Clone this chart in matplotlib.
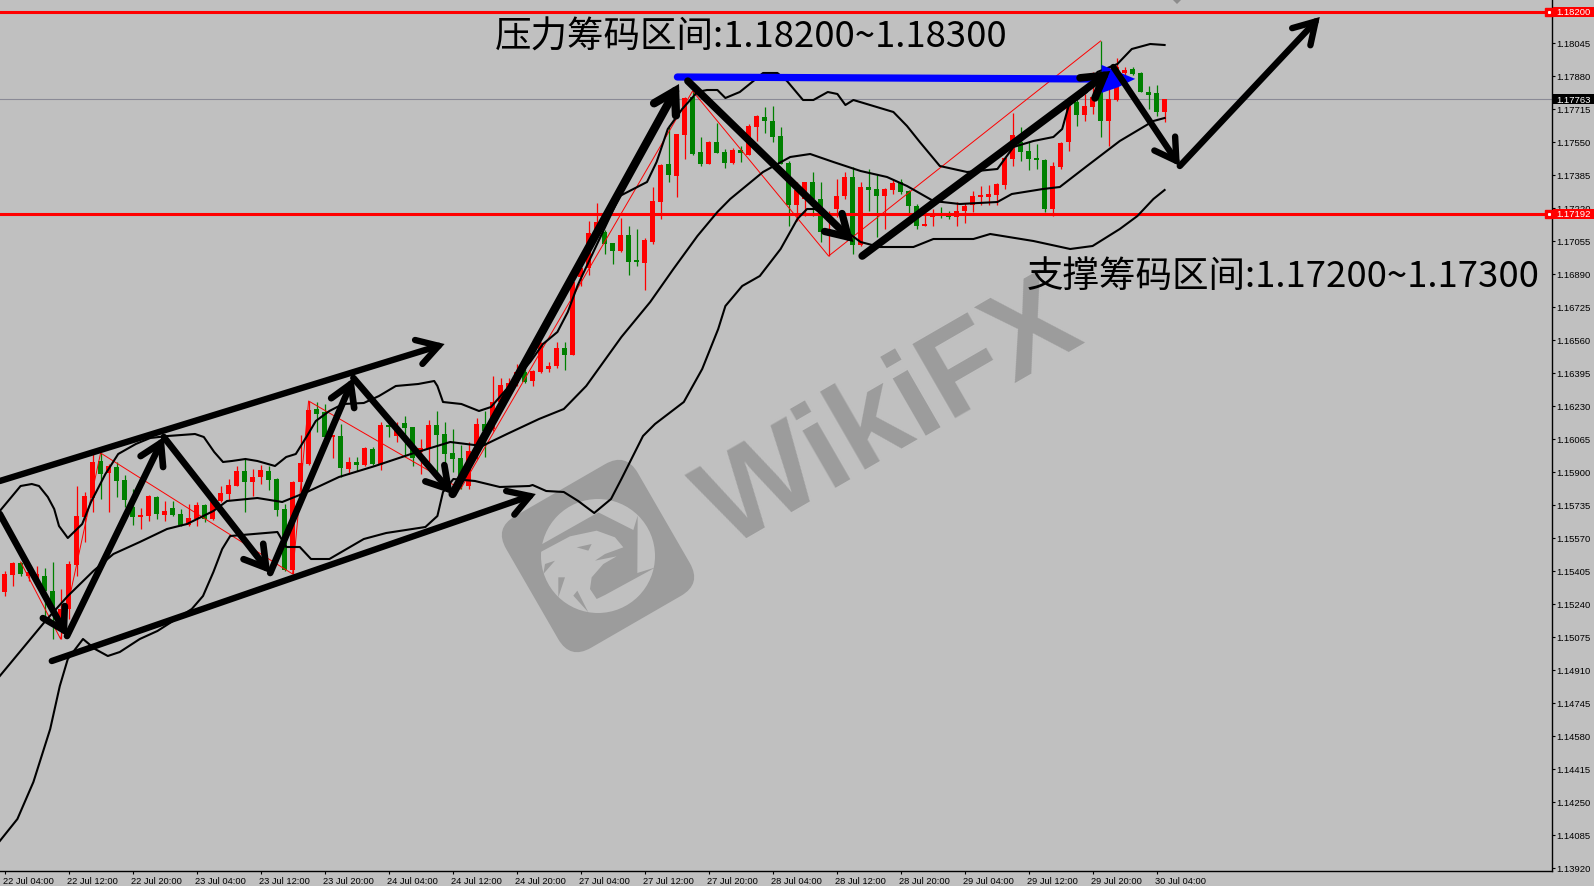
import matplotlib
matplotlib.use("Agg")
import matplotlib.pyplot as plt
import numpy as np
from matplotlib.patches import FancyBboxPatch, Circle, Polygon, Rectangle
from matplotlib.transforms import Affine2D, blended_transform_factory

plt.rcParams['font.family'] = ['Liberation Sans', 'DejaVu Sans']

opens = [1.15300,1.15385,1.15445,1.15380,1.15365,1.15380,1.15305,1.15165,1.15215,1.15435,
 1.15675,1.15770,1.15955,1.15895,1.15925,1.15860,1.15725,1.15675,1.15680,1.15775,
 1.15685,1.15720,1.15690,1.15635,1.15665,1.15735,1.15665,1.15755,1.15790,1.15830,
 1.15905,1.15850,1.15875,1.15905,1.15865,1.15715,1.15410,1.15850,1.15940,1.16215,
 1.16200,1.16075,1.16080,1.15915,1.15950,1.15935,1.16015,1.15935,1.16130,1.16080,
 1.16145,1.16125,1.16000,1.16015,1.16135,1.16090,1.15995,1.15970,1.15830,1.16030,
 1.16140,1.16115,1.16250,1.16300,1.16345,1.16400,1.16355,1.16400,1.16415,1.16430,
 1.16520,1.16485,1.16875,1.16920,1.17100,1.17100,1.17045,1.17005,1.17085,1.16955,
 1.16945,1.17050,1.17250,1.17440,1.17380,1.17585,1.17775,1.17500,1.17440,1.17550,
 1.17500,1.17445,1.17510,1.17485,1.17625,1.17675,1.17655,1.17580,1.17445,1.17235,
 1.17265,1.17350,1.17265,1.17100,1.17215,1.17280,1.17375,1.17035,1.17325,1.17315,
 1.17280,1.17310,1.17350,1.17305,1.17230,1.17130,1.17175,1.17195,1.17195,1.17175,
 1.17205,1.17235,1.17275,1.17275,1.17285,1.17335,1.17465,1.17550,1.17505,1.17470,
 1.17460,1.17215,1.17425,1.17550,1.17750,1.17685,1.17725,1.17805,1.17655,1.17760,
 1.17895,1.17915,1.17895,1.17800,1.17795,1.17700]
closes = [1.15390,1.15445,1.15390,1.15400,1.15390,1.15305,1.15205,1.15215,1.15440,1.15680,
 1.15780,1.15950,1.15890,1.15930,1.15855,1.15760,1.15675,1.15685,1.15780,1.15690,
 1.15705,1.15685,1.15635,1.15670,1.15735,1.15665,1.15750,1.15795,1.15835,1.15905,
 1.15850,1.15875,1.15910,1.15860,1.15710,1.15410,1.15850,1.15945,1.16210,1.16190,
 1.16075,1.16080,1.15920,1.15950,1.15935,1.16020,1.15940,1.16135,1.16125,1.16115,
 1.16120,1.15970,1.16020,1.16135,1.16085,1.15990,1.15965,1.15865,1.16005,1.16140,
 1.16105,1.16250,1.16335,1.16345,1.16400,1.16350,1.16405,1.16545,1.16430,1.16520,
 1.16485,1.16850,1.16920,1.17095,1.17150,1.17040,1.17005,1.17085,1.16950,1.16950,
 1.17060,1.17255,1.17435,1.17385,1.17590,1.17770,1.17490,1.17440,1.17550,1.17495,
 1.17445,1.17510,1.17495,1.17630,1.17680,1.17655,1.17575,1.17440,1.17235,1.17310,
 1.17350,1.17265,1.17100,1.17115,1.17280,1.17375,1.17035,1.17325,1.17310,1.17280,
 1.17315,1.17345,1.17300,1.17230,1.17130,1.17140,1.17190,1.17180,1.17175,1.17205,
 1.17230,1.17280,1.17285,1.17290,1.17340,1.17470,1.17585,1.17500,1.17465,1.17460,
 1.17215,1.17430,1.17545,1.17730,1.17685,1.17730,1.17775,1.17655,1.17765,1.17925,
 1.17910,1.17890,1.17800,1.17785,1.17700,1.17763]
highs = [1.15405,1.15450,1.15450,1.15430,1.15430,1.15420,1.15450,1.15315,1.15455,1.15830,
 1.15800,1.15990,1.15995,1.15940,1.15950,1.15885,1.15815,1.15720,1.15785,1.15780,
 1.15755,1.15755,1.15715,1.15740,1.15750,1.15740,1.15755,1.15830,1.15865,1.15930,
 1.15970,1.15915,1.15935,1.15930,1.15870,1.15740,1.15855,1.16085,1.16255,1.16250,
 1.16240,1.16080,1.16140,1.15975,1.15975,1.16025,1.16025,1.16150,1.16180,1.16150,
 1.16180,1.16125,1.16065,1.16160,1.16205,1.16150,1.16115,1.16035,1.16050,1.16170,
 1.16205,1.16380,1.16370,1.16370,1.16440,1.16415,1.16410,1.16550,1.16450,1.16550,
 1.16550,1.16855,1.16980,1.17155,1.17245,1.17110,1.17045,1.17170,1.17130,1.17115,
 1.17070,1.17325,1.17440,1.17635,1.17590,1.17775,1.17805,1.17575,1.17555,1.17645,
 1.17515,1.17520,1.17530,1.17640,1.17685,1.17725,1.17730,1.17625,1.17455,1.17350,
 1.17350,1.17400,1.17350,1.17205,1.17365,1.17400,1.17425,1.17350,1.17415,1.17385,
 1.17320,1.17365,1.17365,1.17310,1.17240,1.17190,1.17215,1.17225,1.17205,1.17250,
 1.17245,1.17305,1.17330,1.17335,1.17345,1.17475,1.17695,1.17625,1.17550,1.17540,
 1.17465,1.17450,1.17550,1.17775,1.17780,1.17790,1.17900,1.18055,1.17925,1.17970,
 1.17925,1.17925,1.17900,1.17830,1.17835,1.17765]
lows = [1.15280,1.15330,1.15380,1.15355,1.15350,1.15180,1.15065,1.15065,1.15165,1.15380,
 1.15550,1.15700,1.15765,1.15700,1.15775,1.15725,1.15635,1.15615,1.15655,1.15665,
 1.15655,1.15680,1.15630,1.15630,1.15630,1.15650,1.15660,1.15750,1.15760,1.15830,
 1.15700,1.15780,1.15840,1.15810,1.15680,1.15405,1.15390,1.15800,1.15935,1.16100,
 1.16065,1.15970,1.15875,1.15890,1.15905,1.15930,1.15935,1.15910,1.16075,1.16050,
 1.15975,1.15930,1.15890,1.15950,1.15880,1.15930,1.15900,1.15815,1.15815,1.15965,
 1.15975,1.16105,1.16230,1.16280,1.16330,1.16345,1.16330,1.16395,1.16400,1.16420,
 1.16410,1.16485,1.16830,1.16885,1.17090,1.16990,1.16940,1.17000,1.16885,1.16930,
 1.16810,1.17040,1.17165,1.17350,1.17275,1.17465,1.17485,1.17430,1.17440,1.17495,
 1.17420,1.17440,1.17450,1.17485,1.17555,1.17595,1.17550,1.17440,1.17130,1.17155,
 1.17180,1.17180,1.17050,1.16980,1.17175,1.17265,1.16990,1.17030,1.17205,1.17075,
 1.17115,1.17290,1.17290,1.17190,1.17115,1.17130,1.17130,1.17170,1.17165,1.17130,
 1.17145,1.17200,1.17235,1.17235,1.17235,1.17315,1.17430,1.17455,1.17410,1.17415,
 1.17200,1.17180,1.17415,1.17505,1.17630,1.17655,1.17690,1.17575,1.17530,1.17755,
 1.17885,1.17885,1.17800,1.17715,1.17680,1.17650]

upper_bars = [-0.6,2.0,3.4,4.3,5.4,6.2,6.8,7.9,9.7,10.8,12.6,14.2,16.4,18.2,20.4,23.8,24.9,26.2,27.3,28.4,
 30.1,31.6,33.8,35.2,36.4,37.8,38.9,40.6,42.3,44.9,46.8,48.9,51.7,53.7,54.1,54.8,57.1,59.3,60.8,65.7,
 67.3,69.1,70.4,71.6,72.0,76.9,80.3,81.5,82.9,84.7,86.6,87.8,89.1,90.1,91.9,93.6,94.8,96.6,97.8,99.8,
 101.1,102.9,104.1,105.1,106.1,108.6,111.1,112.8,114.4,116.9,120.3,124.1,126.1,128.6,131.1,132.2,133.0,
 135.3,136.6,139.1,140.9,143.2,145.0]
upper = [1.15705,1.15830,1.15840,1.15830,1.15775,1.15715,1.15630,1.15570,1.15640,1.15750,1.15890,1.15990,1.16040,1.16070,1.16080,1.16090,1.16075,1.16000,1.15950,1.15955,
 1.15965,1.15955,1.15930,1.15975,1.15990,1.16080,1.16155,1.16205,1.16240,1.16245,1.16280,1.16330,1.16340,1.16355,1.16330,1.16250,1.16240,1.16205,1.16225,1.16450,
 1.16540,1.16600,1.16700,1.16830,1.16865,1.17280,1.17350,1.17450,1.17615,1.17715,1.17800,1.17810,1.17810,1.17770,1.17800,1.17855,1.17895,1.17895,1.17855,1.17760,
 1.17760,1.17800,1.17790,1.17735,1.17760,1.17730,1.17700,1.17630,1.17550,1.17430,1.17400,1.17415,1.17525,1.17555,1.17575,1.17615,1.17730,
 1.17800,1.17900,1.17940,1.18015,1.18040,1.18035]

middle_bars = [-0.6,5.1,7.9,11.1,13.6,16.9,20.3,22.8,26.1,27.8,31.6,34.7,37.8,41.8,46.3,50.8,55.7,59.7,62.8,66.8,
 69.9,72.7,77.1,80.7,83.6,86.6,89.1,90.7,94.8,98.2,100.7,103.6,107.0,110.3,112.8,116.1,119.4,124.1,125.9,129.8,
 131.9,135.3,139.4,143.6,145.0]
middle = [1.14880,1.15155,1.15280,1.15405,1.15490,1.15550,1.15615,1.15640,1.15705,1.15755,1.15770,1.15750,1.15800,1.15875,1.15930,1.15990,1.16050,1.16030,1.16090,1.16165,
 1.16215,1.16330,1.16575,1.16750,1.16915,1.17080,1.17200,1.17265,1.17400,1.17475,1.17490,1.17450,1.17405,1.17375,1.17330,1.17255,1.17240,1.17250,1.17290,1.17315,
 1.17325,1.17430,1.17555,1.17655,1.17670]

lower_bars = [-0.6,1.6,3.6,5.7,6.9,7.9,9.8,11.3,12.9,14.4,16.9,19.1,23.4,24.8,26.1,27.2,28.2,34.1,35.2,36.9,
 38.3,40.6,44.9,47.7,52.6,54.1,54.8,56.1,58.8,61.9,65.6,66.0,67.7,69.9,71.7,73.7,75.8,77.1,79.8,81.3,
 84.9,87.2,89.2,90.1,92.2,94.4,97.0,99.1,100.3,101.3,103.6,107.0,109.4,113.6,116.1,121.1,123.2,128.6,133.2,136.0,
 139.4,141.6,143.6,145.0]
lower = [1.14055,1.14165,1.14350,1.14615,1.14830,1.14965,1.15065,1.15015,1.14980,1.15000,1.15065,1.15105,1.15215,1.15280,1.15400,1.15515,1.15580,1.15600,1.15525,1.15525,
 1.15465,1.15465,1.15565,1.15595,1.15625,1.15680,1.15800,1.15865,1.15855,1.15825,1.15830,1.15835,1.15805,1.15800,1.15755,1.15695,1.15765,1.15865,1.16080,1.16140,
 1.16250,1.16415,1.16615,1.16730,1.16830,1.16880,1.17015,1.17165,1.17215,1.17215,1.17150,1.17050,1.17025,1.17025,1.17065,1.17065,1.17090,1.17055,1.17015,1.17030,
 1.17115,1.17180,1.17265,1.17310]

zig_bars = [2,7,12,36,38,57,86,103,137]
zig_prices = [1.15450,1.15065,1.15995,1.15390,1.16255,1.15815,1.17805,1.16980,1.18055]

# arrows: start bar, start price, tip bar, tip price, line width in points
arrow_x0 = [-0.6,7.8,19.9,33.2,43.6,56.0,85.4,107.2,138.6,146.9,-0.6,5.9]
arrow_y0 = [1.15690,1.15080,1.16075,1.15395,1.16370,1.15790,1.17855,1.16980,1.17925,1.17430,1.15855,1.14955]
arrow_x1 = [7.8,19.9,33.2,43.6,56.0,84.3,106.1,138.2,146.9,164.4,55.0,66.4]
arrow_y1 = [1.15080,1.16075,1.15395,1.16370,1.15790,1.17840,1.17050,1.17905,1.17430,1.18175,1.16540,1.15790]
arrow_lw = [4.8,4.8,4.8,4.8,4.8,6.0,5.3,5.5,4.6,4.6,4.6,4.6]

blue_bars = [84.1,136.6]
blue_prices = [1.17875,1.17865]
blob_bars = [137.3,140.9,139.1,137.3]
blob_prices = [1.17925,1.17865,1.17830,1.17805]

level_high = 1.18200
level_low = 1.17192
last_price = 1.17763

ytick_values = [1.18045,1.17880,1.17715,1.17550,1.17385,1.17220,1.17055,1.16890,1.16725,1.16560,1.16395,
 1.16230,1.16065,1.15900,1.15735,1.15570,1.15405,1.15240,1.15075,1.14910,1.14745,1.14580,1.14415,1.14250,
 1.14085,1.13920]
xtick_labels = ['22 Jul 04:00','22 Jul 12:00','22 Jul 20:00','23 Jul 04:00','23 Jul 12:00','23 Jul 20:00',
 '24 Jul 04:00','24 Jul 12:00','24 Jul 20:00','27 Jul 04:00','27 Jul 12:00','27 Jul 20:00','28 Jul 04:00',
 '28 Jul 12:00','28 Jul 20:00','29 Jul 04:00','29 Jul 12:00','29 Jul 20:00','30 Jul 04:00']

BG = '#c0c0c0'
W, H = 1594, 887
fig = plt.figure(figsize=(W/100, H/100), dpi=100, facecolor=BG)
ax = fig.add_axes([0, 1-872/H, 1552/W, 872/H], facecolor=BG)
ax.set_xlim(-0.575, 193.425)
ax.set_ylim(1.13905, 1.18265)
ax.set_autoscale_on(False)

px = Affine2D().scale(1/W, -1/H).translate(0, 1) + fig.transFigure

# watermark
WM = '#9c9c9c'
sq = FancyBboxPatch((-76, -76), 152, 152, boxstyle='round,pad=0,rounding_size=24', fc=WM, ec='none',
                    transform=Affine2D().rotate_deg(-30).translate(598, 557) + px, zorder=0.5, clip_on=False)
ax.add_patch(sq)
ax.add_patch(Circle((598, 557), 57, fc=BG, ec='none', transform=px, zorder=0.6))
crop = Affine2D().scale(1/3).translate(490, 450) + px
logo_shapes = [
    [(148,290),(325,190),(430,243),(443,200),(442,372),(497,355),(345,438),(320,450),(300,420),(305,385),
     (340,345),(380,322),(315,335),(345,315),(400,295),(375,265),(320,245),(240,262),(150,310)],
    [(160,375),(195,335),(165,345)],
    [(205,445),(225,385),(205,385)],
    [(295,490),(262,425),(250,440)],
    [(260,295),(305,285),(295,305)],
]
for s in logo_shapes:
    ax.add_patch(Polygon(s, closed=True, fc=WM, ec='none', transform=crop, zorder=0.7))
ax.text(727, 549, 'WikiFX', transform=px, rotation=30, rotation_mode='anchor', ha='left', va='baseline',
        fontsize=90, fontweight='bold', color=WM, family='Liberation Sans', zorder=0.5)
ax.add_patch(Polygon([(1172,0),(1182,0),(1177,5)], closed=True, fc='#8c8c8c', ec='none', transform=px, zorder=0.5))

# candles
bars = np.arange(len(opens))
o, h, l, c = map(np.array, (opens, highs, lows, closes))
cols = np.where(c >= o, '#ff0000', '#008000')
ax.vlines(bars, l, h, colors=cols, lw=0.9, zorder=2)
ax.bar(bars, np.maximum(np.abs(c-o), 0.00012), bottom=np.minimum(o, c), width=0.7, color=cols, linewidth=0, zorder=2.1)

# zigzag
ax.plot(zig_bars, zig_prices, color='#ff0000', lw=0.7, zorder=2.2)

# bands
for bx, by in ((upper_bars, upper), (middle_bars, middle), (lower_bars, lower)):
    ax.plot(bx, by, color='black', lw=1.5, zorder=3, solid_joinstyle='round')

# levels
ax.axhline(level_high, color='#ff0000', lw=2.2, zorder=2.5)
ax.axhline(level_low, color='#ff0000', lw=2.2, zorder=2.5)
ax.axhline(last_price, color='#8a8a96', lw=0.8, zorder=1)

# blue resistance
ax.plot(blue_bars, blue_prices, color='#0000ff', lw=5.2, solid_capstyle='round', zorder=3.5)
ax.fill(blob_bars, blob_prices, color='#0000ff', lw=2, zorder=3.5)

# arrows
for x0, y0, x1, y1, lw in zip(arrow_x0, arrow_y0, arrow_x1, arrow_y1, arrow_lw):
    ax.annotate('', xy=(x1, y1), xytext=(x0, y0), zorder=4, annotation_clip=False,
                arrowprops=dict(arrowstyle='->,head_length=1.5,head_width=0.9', lw=lw, color='black',
                                shrinkA=0, shrinkB=0, capstyle='round', joinstyle='miter'))

# texts
cjk = ['Noto Sans CJK SC', 'DejaVu Sans']
ax.text(61.3, 1.18075, '压力筹码区间:1.18200~1.18300', family=cjk, fontsize=26.3, color='black', va='center', ha='left', zorder=5)
ax.text(127.8, 1.16880, '支撑筹码区间:1.17200~1.17300', family=cjk, fontsize=26.3, color='black', va='center', ha='left', zorder=5)

# axes
for sp in ('top', 'left'):
    ax.spines[sp].set_visible(False)
for sp in ('right', 'bottom'):
    ax.spines[sp].set_linewidth(1.0)
ax.yaxis.tick_right()
ax.set_yticks(ytick_values)
ax.set_yticklabels([f'{v:.5f}' for v in ytick_values], fontsize=6.8, color='black')
ax.tick_params(axis='y', length=2.4, width=0.8, pad=0.8)
xt = np.arange(len(xtick_labels)) * 8
ax.set_xticks(xt)
ax.set_xticklabels(xtick_labels, fontsize=6.7, ha='left', color='black')
ax.tick_params(axis='x', length=2.4, width=0.8, pad=1.5)
offset = matplotlib.transforms.ScaledTranslation(-1.5/100, 0, fig.dpi_scale_trans)
for t in ax.get_xticklabels():
    t.set_transform(t.get_transform() + offset)

# price tags
trans = blended_transform_factory(ax.transAxes, ax.transData)
tag_w = 42/1552
for val, col in ((level_high, '#ff0000'), (level_low, '#ff0000'), (last_price, 'black')):
    ax.add_patch(Rectangle((1.0008, val-0.00025), tag_w, 0.0005, fc=col, ec='none', transform=trans, clip_on=False, zorder=6))
    ax.text(1+4/1552, val, f'{val:.5f}', transform=trans, fontsize=6.8, color='white', va='center', ha='left', clip_on=False, zorder=7)
for val in (level_high, level_low):
    ax.plot([1-3.5/1552], [val], marker='s', ms=5.5, mfc='#ff0000', mec='#ff0000', transform=trans, clip_on=False, zorder=6)
    ax.plot([1-3.5/1552], [val], marker='s', ms=1.2, mfc='white', mec='white', transform=trans, clip_on=False, zorder=6.1)

fig.savefig('out.png', dpi=100, facecolor=BG)
